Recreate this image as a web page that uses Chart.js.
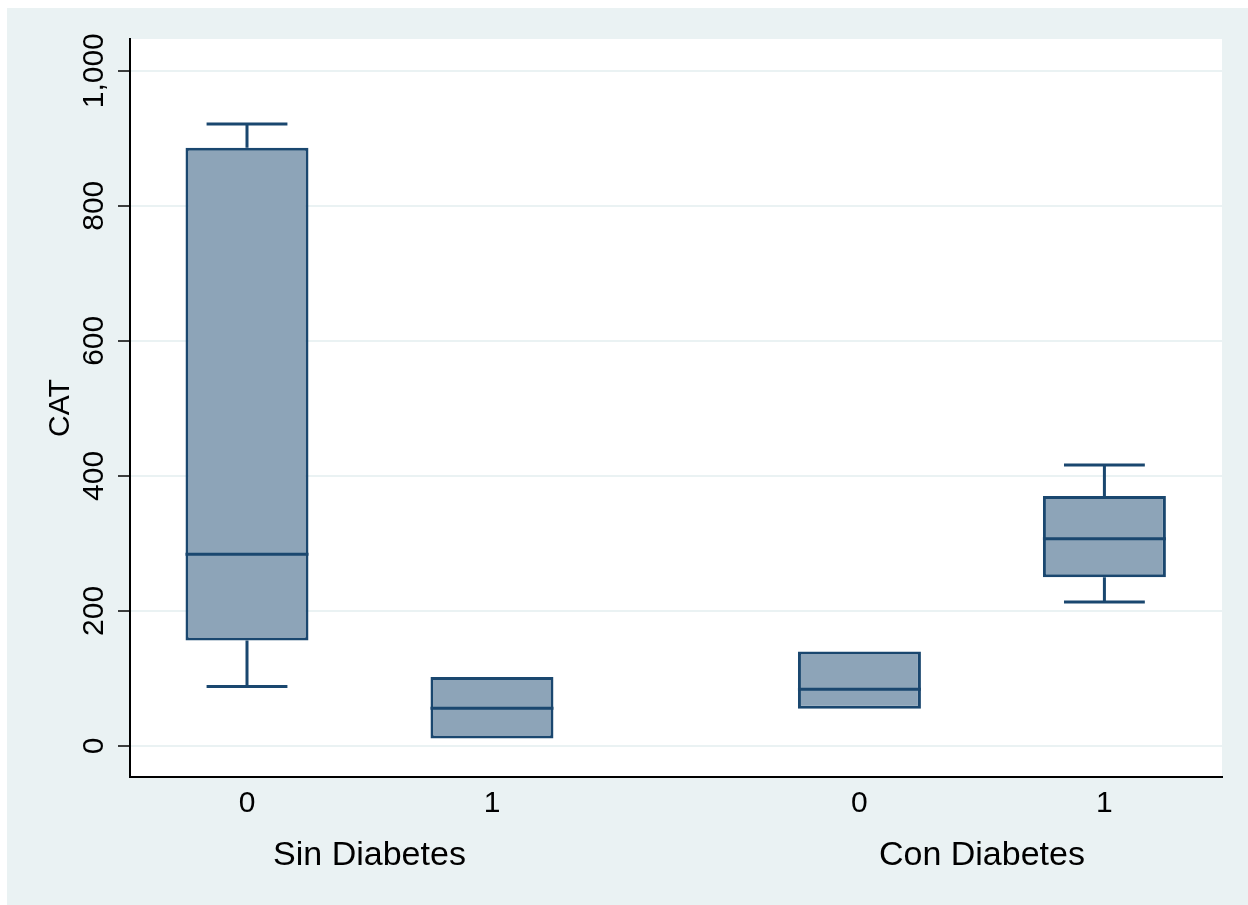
<!DOCTYPE html>
<html>
<head>
<meta charset="utf-8">
<script src="https://cdn.jsdelivr.net/npm/chart.js@4.4.0/dist/chart.umd.min.js"></script>
<style>
  body { margin: 0; background: #ffffff; }
  canvas { display: block; }
</style>
</head>
<body>
<canvas id="chart" width="1248" height="905"></canvas>
<script>
// slots on the x axis (two groups of two boxes, gap between groups)
const slots = [0, 1, 2.5, 3.5];
const slotLabels = ['0', '1', '0', '1'];
const groupLabels = ['Sin Diabetes', 'Con Diabetes'];
const groupSlots = [0.5, 3.0];

// box plot values for CAT
const lowerWhisker = [88, 11, 55, 213];
const q1 = [156, 11, 55, 250];
const median = [284, 56, 84, 307];
const q3 = [886, 102, 140, 370];
const upperWhisker = [921, 102, 140, 416];

const yTicks = [0, 200, 400, 600, 800, 1000];

const navy = '#1a476f';
const boxFill = '#8da4b8';
const bluish = '#eaf2f3';
const fontFamily = '"Liberation Sans", Arial, Helvetica, sans-serif';

const capHalf = 0.165;
const boxHalf = 0.251;

var boxData = slots.map(function (s, i) { return {x: s, y: [q1[i], q3[i]]}; });

// whisker = stem + cap, skipped when it coincides with the box edge
var whiskerData = [];
function addWhisker(s, from, to) {
    if (from === to) return;
    whiskerData.push({x: s, y: from}, {x: s, y: to}, {x: s, y: null});
    whiskerData.push({x: s - capHalf, y: to}, {x: s + capHalf, y: to}, {x: s, y: null});
}
slots.forEach(function (s, i) {
    addWhisker(s, q3[i], upperWhisker[i]);
    addWhisker(s, q1[i], lowerWhisker[i]);
});

var medianData = [];
slots.forEach(function (s, i) {
    medianData.push({x: s - boxHalf, y: median[i]}, {x: s + boxHalf, y: median[i]}, {x: s, y: null});
});

const backdrop = {
    id: 'backdrop',
    beforeDraw: function (chart) {
        const ctx = chart.ctx;
        const a = chart.chartArea;
        ctx.save();
        ctx.fillStyle = bluish;
        ctx.fillRect(7, 8, chart.width - 7, chart.height - 8);
        ctx.fillStyle = '#ffffff';
        ctx.fillRect(a.left, a.top, a.right - a.left, a.bottom - a.top);
        ctx.restore();
    }
};

const xMin = -0.4776, xMax = 3.98;

new Chart(document.getElementById('chart'), {
    type: 'bar',
    data: {
        datasets: [
            {
                label: 'box',
                data: boxData,
                backgroundColor: boxFill,
                borderColor: navy,
                borderWidth: 3,
                borderSkipped: false,
                categoryPercentage: 1,
                barPercentage: 0.502,
                order: 2
            },
            {
                type: 'line',
                label: 'whiskers',
                data: whiskerData,
                borderColor: navy,
                borderWidth: 3,
                pointRadius: 0,
                spanGaps: false,
                tension: 0,
                order: 1
            },
            {
                type: 'line',
                label: 'median',
                data: medianData,
                borderColor: navy,
                borderWidth: 3,
                pointRadius: 0,
                spanGaps: false,
                tension: 0,
                order: 0
            }
        ]
    },
    plugins: [backdrop],
    options: {
        responsive: false,
        animation: false,
        layout: {padding: {left: 0, top: 39, right: 26, bottom: 0}},
        plugins: {legend: {display: false}, tooltip: {enabled: false}},
        scales: {
            x: {
                type: 'linear',
                position: 'bottom',
                weight: 1,
                offset: false,
                min: xMin,
                max: xMax,
                grid: {display: false, drawTicks: false},
                border: {display: true, color: '#000000', width: 2},
                afterBuildTicks: function (scale) {
                    scale.ticks = slots.map(function (v) { return {value: v}; });
                },
                afterFit: function (scale) { scale.height = 50; },
                ticks: {
                    autoSkip: false,
                    maxRotation: 0,
                    padding: 9,
                    color: '#000000',
                    font: {family: fontFamily, size: 30},
                    callback: function (v) {
                        var i = slots.indexOf(v);
                        return i >= 0 ? slotLabels[i] : '';
                    }
                }
            },
            x2: {
                type: 'linear',
                position: 'bottom',
                weight: 2,
                offset: false,
                min: xMin,
                max: xMax,
                grid: {display: false, drawTicks: false},
                border: {display: false},
                afterBuildTicks: function (scale) {
                    scale.ticks = groupSlots.map(function (v) { return {value: v}; });
                },
                afterFit: function (scale) { scale.height = 78; },
                ticks: {
                    autoSkip: false,
                    maxRotation: 0,
                    padding: 8,
                    color: '#000000',
                    font: {family: fontFamily, size: 34},
                    callback: function (v) {
                        var i = groupSlots.indexOf(v);
                        return i >= 0 ? groupLabels[i] : '';
                    }
                }
            },
            y: {
                type: 'linear',
                position: 'left',
                min: -46,
                max: 1047,
                afterBuildTicks: function (scale) {
                    scale.ticks = yTicks.map(function (v) { return {value: v}; });
                },
                afterFit: function (scale) { scale.width = 130; },
                grid: {
                    color: bluish,
                    lineWidth: 2,
                    tickColor: '#000000',
                    tickWidth: 1.5,
                    tickLength: 12
                },
                border: {display: true, color: '#000000', width: 2},
                ticks: {
                    minRotation: 90,
                    maxRotation: 90,
                    crossAlign: 'center',
                    padding: -14,
                    color: '#000000',
                    font: {family: fontFamily, size: 30},
                    callback: function (v) { return v.toLocaleString('en-US'); }
                },
                title: {
                    display: true,
                    text: 'CAT',
                    color: '#000000',
                    font: {family: fontFamily, size: 30},
                    padding: {top: 43, bottom: 0}
                }
            }
        }
    }
});
</script>
</body>
</html>
